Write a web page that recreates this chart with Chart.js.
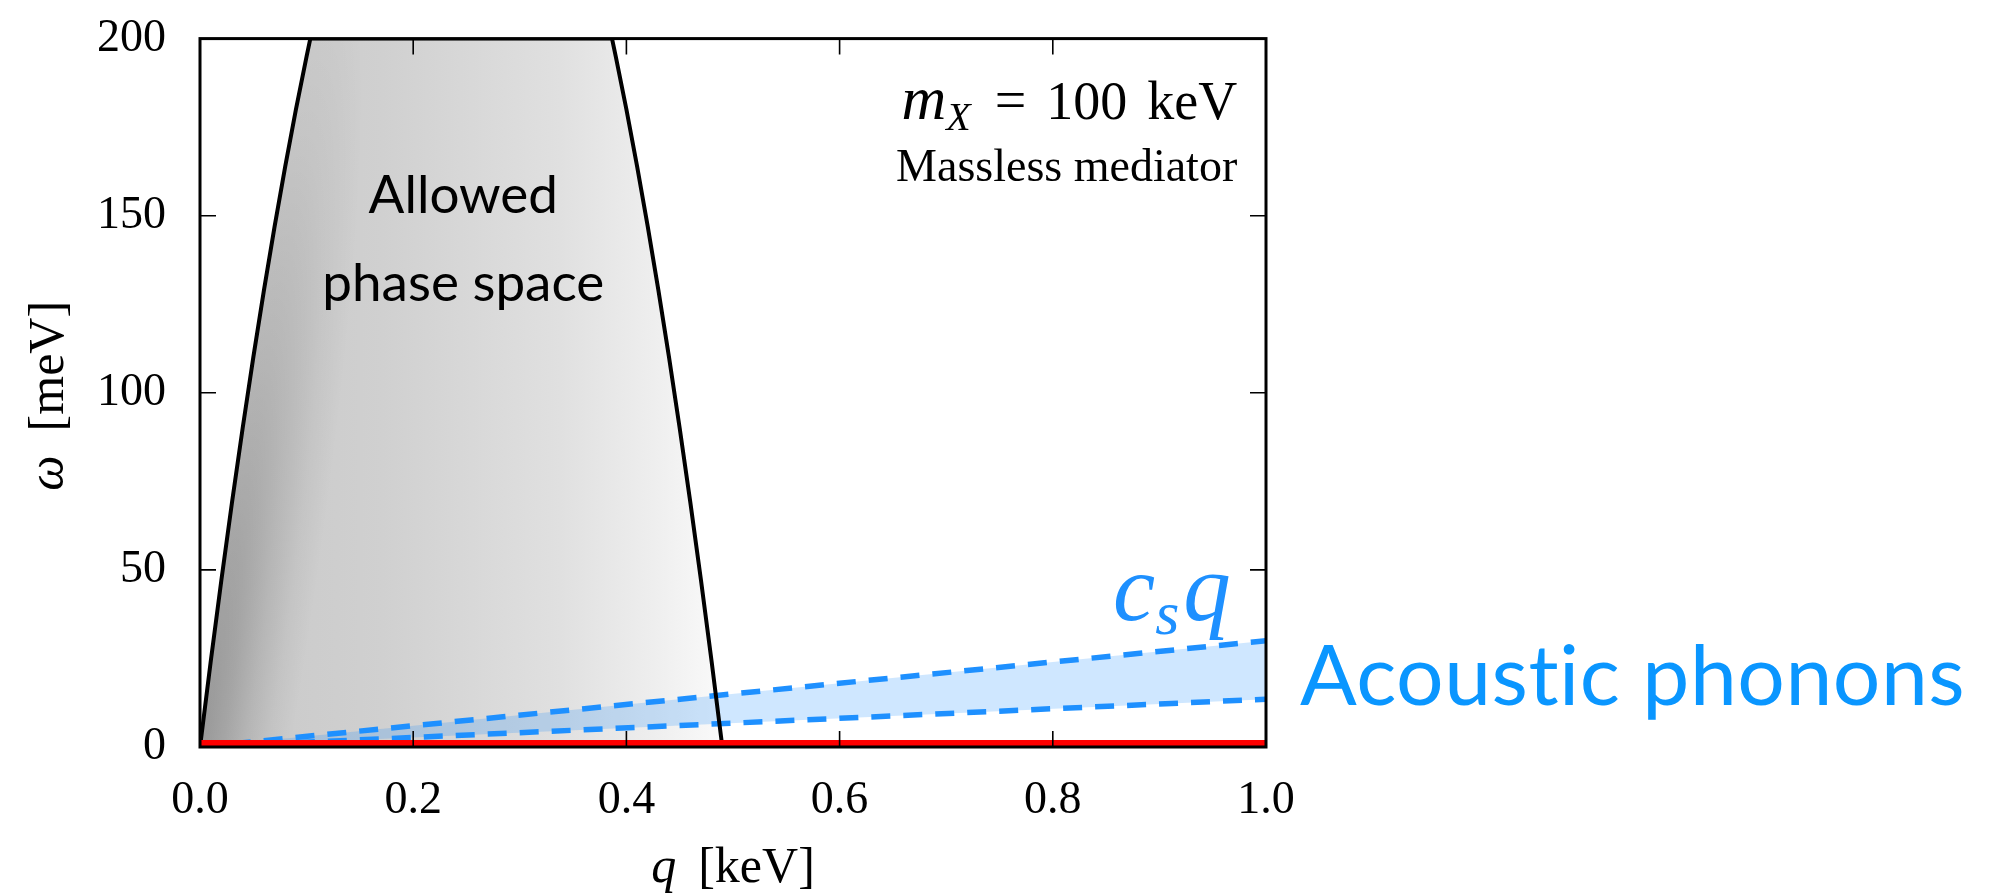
<!DOCTYPE html>
<html>
<head>
<meta charset="utf-8">
<title>Allowed phase space</title>
<script src="https://cdn.jsdelivr.net/npm/chart.js@4.4.1/dist/chart.umd.min.js"></script>
<style>
  html, body { margin: 0; padding: 0; background: #fff; }
  #phaseChart { display: block; }
</style>
</head>
<body>
<canvas id="phaseChart" width="1998" height="893"></canvas>
<script>
// q in keV, omega in meV
const edgeQ = [0, 0.01, 0.02, 0.03, 0.04, 0.05, 0.06, 0.07, 0.08, 0.09, 0.10, 0.1035,
               0.3865, 0.39, 0.40, 0.41, 0.42, 0.43, 0.44, 0.45, 0.46, 0.47, 0.48, 0.49];
const edgeW = [0, 24, 47, 69, 90, 110, 129, 147, 164, 180, 195, 200,
               200, 195, 180, 164, 147, 129, 110, 90, 69, 47, 24, 0];

// sound speed band (c_s q)
const soundQ = [0, 1.0];
const soundHigh = [0, 30];
const soundLow = [0, 13.5];

// red line on the floor
const floorQ = [0, 1.0];
const floorW = [0, 0];

const xTicks = [0, 0.2, 0.4, 0.6, 0.8, 1.0];
const yTicks = [0, 50, 100, 150, 200];

const serif = "'Liberation Serif', 'DejaVu Serif', serif";
const sans = "Lato, 'Noto Sans', sans-serif";
const blue = "#1e90ff";

function points(xs, ys) {
    return xs.map((x, i) => ({ x: x, y: ys[i] }));
}

// grey shading of the allowed region, built once from the scales
let shadePattern = null;
function regionShade(context) {
    const chart = context.chart;
    if (!chart.chartArea) return "#d0d0d0";
    if (shadePattern) return shadePattern;

    const xs = chart.scales.x;
    const ys = chart.scales.y;
    const off = document.createElement("canvas");
    off.width = chart.width;
    off.height = chart.height;
    const g = off.getContext("2d");

    const x0 = xs.getPixelForValue(0);
    const x1 = xs.getPixelForValue(edgeQ[edgeQ.length - 1]);
    const y0 = ys.getPixelForValue(0);

    const lin = g.createLinearGradient(x0, 0, x1, 0);
    lin.addColorStop(0, "#c8c8c8");
    lin.addColorStop(0.35, "#d0d0d0");
    lin.addColorStop(0.69, "#e0e0e0");
    lin.addColorStop(0.88, "#efefef");
    lin.addColorStop(1, "#fafafa");
    g.fillStyle = lin;
    g.fillRect(0, 0, off.width, off.height);

    // darker band hugging the left edge, strongest near the origin
    g.save();
    g.translate(x0, y0);
    g.rotate(0.17);
    g.scale(1, 9);
    const rad = g.createRadialGradient(0, 0, 0, 0, 0, 90);
    rad.addColorStop(0, "rgba(0,0,0,0.24)");
    rad.addColorStop(0.25, "rgba(0,0,0,0.18)");
    rad.addColorStop(0.5, "rgba(0,0,0,0.10)");
    rad.addColorStop(0.75, "rgba(0,0,0,0.04)");
    rad.addColorStop(1, "rgba(0,0,0,0)");
    g.fillStyle = rad;
    g.fillRect(-400, -100, 800, 110);
    g.restore();

    shadePattern = chart.ctx.createPattern(off, "no-repeat");
    return shadePattern;
}

// frame and inward ticks on all four sides
const framePlugin = {
    id: "frame",
    afterDatasetsDraw(chart) {
        const { ctx, chartArea: a, scales } = chart;
        ctx.save();
        ctx.strokeStyle = "#000";
        ctx.lineWidth = 1.6;
        ctx.beginPath();
        xTicks.slice(1, -1).forEach(v => {
            const px = scales.x.getPixelForValue(v);
            ctx.moveTo(px, a.bottom);
            ctx.lineTo(px, a.bottom - 16);
            ctx.moveTo(px, a.top);
            ctx.lineTo(px, a.top + 16);
        });
        yTicks.slice(1, -1).forEach(v => {
            const py = scales.y.getPixelForValue(v);
            ctx.moveTo(a.left, py);
            ctx.lineTo(a.left + 16, py);
            ctx.moveTo(a.right, py);
            ctx.lineTo(a.right - 16, py);
        });
        ctx.stroke();
        ctx.lineWidth = 3;
        ctx.strokeRect(a.left, a.top, a.right - a.left, a.bottom - a.top);
        ctx.restore();
    }
};

// draw a run of [text, font, dy, gapAfter] pieces starting at x
function drawRun(ctx, parts, x, y) {
    parts.forEach(p => {
        ctx.font = p[1];
        ctx.fillText(p[0], x, y + (p[2] || 0));
        x += ctx.measureText(p[0]).width + (p[3] || 0);
    });
}
function runWidth(ctx, parts) {
    let w = 0;
    parts.forEach(p => {
        ctx.font = p[1];
        w += ctx.measureText(p[0]).width + (p[3] || 0);
    });
    return w;
}

const textPlugin = {
    id: "labels",
    afterDraw(chart) {
        const { ctx, chartArea: a, scales } = chart;
        const X = v => scales.x.getPixelForValue(v);
        const Y = v => scales.y.getPixelForValue(v);
        ctx.save();
        ctx.textBaseline = "alphabetic";

        // region label
        ctx.fillStyle = "#000";
        ctx.textAlign = "center";
        ctx.font = "53px " + sans;
        ctx.fillText("Allowed", X(0.247), Y(150.7));
        ctx.fillText("phase space", X(0.247), Y(125.9));

        // mass and mediator, top right
        ctx.textAlign = "left";
        const mass = [
            ["m", "italic 62px " + serif, 0, 0],
            ["X", "italic 40px " + serif, 11, 24],
            ["=", "56px " + serif, 0, 20],
            ["100", "54px " + serif, 0, 20],
            ["keV", "54px " + serif, 0, 0]
        ];
        const right = X(0.973);
        drawRun(ctx, mass, right - runWidth(ctx, mass), Y(177.2));
        ctx.textAlign = "right";
        ctx.font = "46px " + serif;
        ctx.fillText("Massless mediator", right, Y(159.7));

        // c_s q
        ctx.textAlign = "left";
        ctx.fillStyle = blue;
        const cs = [
            ["c", "italic 95px " + serif, 0, 0],
            ["s", "italic 62px " + serif, 14, 4],
            ["q", "italic 95px " + serif, 0, 0]
        ];
        drawRun(ctx, cs, X(0.967) - runWidth(ctx, cs), Y(35.8));

        // outside label
        ctx.fillStyle = "#0a96ff";
        ctx.font = "84px " + sans;
        ctx.letterSpacing = "0.5px";
        ctx.fillText("Acoustic phonons", a.right + 34, Y(11.8));
        ctx.letterSpacing = "0px";

        // axis titles
        ctx.fillStyle = "#000";
        const xt = [
            ["q", "italic 50px " + serif, 0, 22],
            ["[keV]", "50px " + serif, 0, 0]
        ];
        const cx = (a.left + a.right) / 2;
        drawRun(ctx, xt, cx - runWidth(ctx, xt) / 2, a.bottom + 135);

        const yt = [
            ["\u03c9", "italic 50px " + serif, 0, 24],
            ["[meV]", "50px " + serif, 0, 0]
        ];
        ctx.translate(63, (a.top + a.bottom) / 2 + 3);
        ctx.rotate(-Math.PI / 2);
        drawRun(ctx, yt, -runWidth(ctx, yt) / 2, 0);
        ctx.restore();
    }
};

const dashed = { borderColor: blue, borderWidth: 5.5, borderDash: [19, 13], pointRadius: 0 };

new Chart(document.getElementById("phaseChart"), {
    type: "line",
    data: {
        datasets: [
            {
                label: "allowed",
                data: points(edgeQ, edgeW),
                fill: "origin",
                backgroundColor: regionShade,
                borderWidth: 0,
                pointRadius: 0,
                order: 5
            },
            Object.assign({
                label: "cs high",
                data: points(soundQ, soundHigh),
                fill: "+1",
                backgroundColor: "rgba(30,144,255,0.21)",
                order: 4
            }, dashed),
            Object.assign({
                label: "cs low",
                data: points(soundQ, soundLow),
                fill: false,
                order: 3
            }, dashed),
            {
                label: "edge",
                data: points(edgeQ, edgeW),
                fill: false,
                borderColor: "#000",
                borderWidth: 4,
                pointRadius: 0,
                order: 2
            },
            {
                label: "floor",
                data: points(floorQ, floorW),
                fill: false,
                borderColor: "#ff0000",
                borderWidth: 14,
                pointRadius: 0,
                clip: 0,
                order: 1
            }
        ]
    },
    options: {
        responsive: false,
        animation: false,
        layout: { padding: { top: 37, right: 732, bottom: 0, left: 0 } },
        plugins: {
            legend: { display: false },
            tooltip: { enabled: false }
        },
        scales: {
            x: {
                type: "linear",
                min: 0,
                max: 1,
                afterBuildTicks: s => { s.ticks = xTicks.map(v => ({ value: v })); },
                afterFit: s => { s.height = 146; },
                grid: { display: false, drawTicks: false },
                border: { display: false },
                ticks: {
                    color: "#000",
                    padding: 26,
                    font: { family: serif, size: 46 },
                    callback: v => Number(v).toFixed(1)
                }
            },
            y: {
                type: "linear",
                min: 0,
                max: 200,
                afterBuildTicks: s => { s.ticks = yTicks.map(v => ({ value: v })); },
                afterFit: s => { s.width = 200; },
                grid: { display: false, drawTicks: false },
                border: { display: false },
                ticks: {
                    color: "#000",
                    padding: 34,
                    font: { family: serif, size: 46, lineHeight: 0.2 },
                    callback: v => String(v)
                }
            }
        }
    },
    plugins: [framePlugin, textPlugin]
});
</script>
</body>
</html>
